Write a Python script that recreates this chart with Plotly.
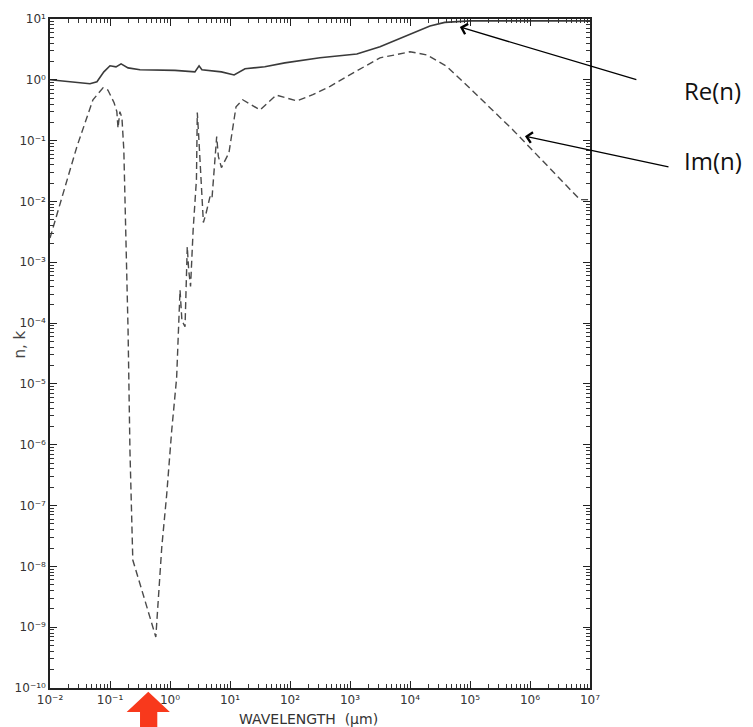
import plotly.graph_objects as go

# Real part n (solid)
re_wl = [0.01, 0.0215, 0.0464, 0.0606, 0.079, 0.1, 0.126, 0.153, 0.2, 0.316, 1.21, 2.6, 3.05, 3.4,
         5.6, 6.2, 7.2, 11.7, 17.8, 38, 82, 316, 1300, 3160, 1.1e4, 2.15e4, 3.8e4, 1.0e5, 1.0e7]
re_n = [1.0, 0.93, 0.86, 0.93, 1.35, 1.7, 1.63, 1.83, 1.57, 1.46, 1.43, 1.35, 1.7, 1.46,
        1.4, 1.35, 1.35, 1.2, 1.52, 1.64, 1.9, 2.3, 2.65, 3.5, 5.9, 7.7, 8.8, 9.3, 9.3]

# Imaginary part k (dashed)
im_wl = [0.01, 0.028, 0.052, 0.0766, 0.092, 0.117, 0.13, 0.136, 0.146, 0.158, 0.17, 0.185, 0.2,
         0.215, 0.24, 0.38, 0.58, 0.73, 0.88, 1.07, 1.2, 1.29, 1.37, 1.47, 1.58, 1.78, 1.94, 2.05,
         2.2, 2.43, 2.76, 2.85, 3.0, 3.6, 3.98, 4.64, 5.0, 6.0, 6.4, 7.2, 9.6, 12.6, 16.3, 31.6,
         59, 130, 240, 466, 880, 3160, 6000, 1.0e4, 1.9e4, 4.1e4, 1.12e5, 5.2e5, 6.8e6, 1.0e7]
im_k = [2.5e-3, 0.079, 0.47, 0.74, 0.68, 0.42, 0.3, 0.16, 0.3, 0.24, 0.07, 3.4e-3, 7.7e-5,
        8.0e-7, 1.27e-8, 2.8e-9, 6.9e-10, 2.1e-8, 1.5e-7, 1.75e-6, 5.5e-6, 1.26e-5, 5.9e-5, 3.5e-4,
        1.1e-4, 8.7e-5, 1.8e-3, 7.4e-4, 4.0e-4, 3.4e-3, 0.023, 0.29, 0.125, 4.5e-3, 6.3e-3, 0.012,
        0.011, 0.117, 0.055, 0.036, 0.063, 0.36, 0.47, 0.32, 0.56, 0.45, 0.57, 0.78, 1.13, 2.3,
        2.6, 2.9, 2.57, 1.66, 0.65, 0.15, 0.0107, 0.0107]

SUP = str.maketrans("-0123456789", "⁻⁰¹²³⁴⁵⁶⁷⁸⁹")
x_exps = list(range(-2, 8))
y_exps = list(range(-10, 2))
x_tickvals = [10.0 ** e for e in x_exps]
x_ticktext = ["10" + str(e).translate(SUP) for e in x_exps]
y_tickvals = [10.0 ** e for e in y_exps]
y_ticktext = ["10" + str(e).translate(SUP) for e in y_exps]

fig = go.Figure()
fig.add_trace(go.Scatter(x=re_wl, y=re_n, mode="lines",
                         line=dict(color="#3a3a3a", width=1.6), name="Re(n)"))
fig.add_trace(go.Scatter(x=im_wl, y=im_k, mode="lines",
                         line=dict(color="#4a4a4a", width=1.4, dash="7px,4px"), name="Im(n)"))

axis_common = dict(
    type="log", showgrid=False, zeroline=False, showline=True, linecolor="#222",
    linewidth=1.5, mirror="allticks", ticks="inside", ticklen=7, tickwidth=1,
    tickcolor="#222", tickfont=dict(family="DejaVu Sans", size=12, color="#333"),
    minor=dict(ticks="inside", ticklen=4, tickwidth=1, tickcolor="#333", dtick="D1", showgrid=False),
    automargin=False,
)

fig.update_xaxes(range=[-2, 7], tickvals=x_tickvals, ticktext=x_ticktext, **axis_common)
fig.update_yaxes(range=[-10, 1], tickvals=y_tickvals, ticktext=y_ticktext, **axis_common)

# axis titles as annotations (placed like the reference)
fig.add_annotation(x=(308 - 50) / 540, y=(688 - 719) / 668, xref="paper", yref="paper",
                   text="WAVELENGTH  (μm)", showarrow=False, xanchor="center",
                   yanchor="middle", font=dict(family="DejaVu Sans", size=14, color="#333"))
fig.add_annotation(x=(20 - 50) / 540, y=(688 - 345) / 668, xref="paper", yref="paper",
                   text="n, k", showarrow=False, textangle=-90, xanchor="center",
                   yanchor="middle", font=dict(family="DejaVu Sans", size=15, color="#444"))

# arrows and labels
fig.add_annotation(x=0.759, y=0.988, xref="paper", yref="paper", text="", showarrow=True,
                   ax=178, ay=53, arrowhead=4, arrowsize=1.6, arrowwidth=1.3, arrowcolor="black")
fig.add_annotation(x=0.8796, y=0.8249, xref="paper", yref="paper", text="", showarrow=True,
                   ax=145, ay=31, arrowhead=4, arrowsize=1.6, arrowwidth=1.3, arrowcolor="black")
fig.add_annotation(x=(682 - 50) / 540, y=(688 - 91) / 668, xref="paper", yref="paper",
                   text="Re(n)", showarrow=False, xanchor="left", yanchor="middle",
                   font=dict(family="Open Sans", size=24, color="#111"))
fig.add_annotation(x=(682 - 50) / 540, y=(688 - 161) / 668, xref="paper", yref="paper",
                   text="Im(n)", showarrow=False, xanchor="left", yanchor="middle",
                   font=dict(family="Open Sans", size=24, color="#111"))

# red arrow marker below the axis
fig.add_shape(type="path", xref="paper", yref="paper",
              path="M 0.182 -0.0055 L 0.222 -0.0359 L 0.1987 -0.0359 L 0.1987 -0.08 "
                   "L 0.1667 -0.08 L 0.1667 -0.0359 L 0.142 -0.0359 Z",
              fillcolor="#f8391c", line=dict(width=0), layer="above")

fig.update_layout(width=753, height=727, margin=dict(l=50, r=163, t=19, b=39),
                  paper_bgcolor="white", plot_bgcolor="white", showlegend=False)

fig.write_html("out.html")
